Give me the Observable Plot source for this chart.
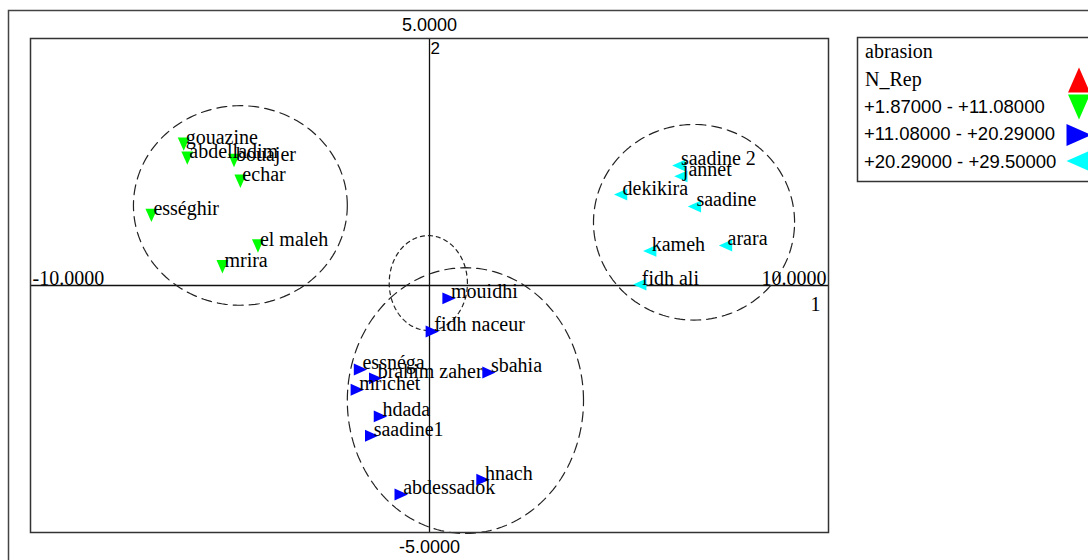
<!DOCTYPE html>
<html>
<head>
<meta charset="utf-8">
<script src="https://cdn.jsdelivr.net/npm/d3@7"></script>
<script src="https://cdn.jsdelivr.net/npm/@observablehq/plot@0.6"></script>
<style>
  html, body { margin: 0; padding: 0; background: #fff; }
  #wrap { position: relative; width: 1088px; height: 560px; overflow: hidden; background: #fff; }
  #wrap > svg { position: absolute; left: 0; top: 0; }
</style>
</head>
<body>
<div id="wrap"></div>
<script>
// ---- data ----
const greenNames = ["gouazine", "abdelladim", "bouajer", "echar", "ességhir", "el maleh", "mrira"];
const greenX = [-6.16, -6.07, -4.90, -4.74, -6.97, -4.30, -5.19];
const greenY = [2.86, 2.58, 2.53, 2.11, 1.42, 0.80, 0.38];

const blueNames = ["mouidhi", "fidh naceur", "essnéga", "brahim zaher", "mrichet", "sbahia", "hdada", "saadine1", "hnach", "abdessadok"];
const blueX = [0.49, 0.07, -1.73, -1.35, -1.81, 1.49, -1.23, -1.45, 1.34, -0.71];
const blueY = [-0.26, -0.93, -1.70, -1.88, -2.11, -1.76, -2.65, -3.04, -3.93, -4.23];

const cyanNames = ["saadine 2", "jannet", "dekikira", "saadine", "kameh", "arara", "fidh ali"];
const cyanX = [6.25, 6.30, 4.79, 6.64, 5.52, 7.42, 5.27];
const cyanY = [2.43, 2.21, 1.84, 1.60, 0.70, 0.81, 0.02];

// dashed cluster ellipses (data units)
const ellipseCX = [-4.74, 6.63, 0.90, -0.03];
const ellipseCY = [1.62, 1.28, -2.33, 0.05];
const ellipseRX = [2.68, 2.52, 2.96, 0.98];
const ellipseRY = [2.02, 1.98, 2.69, 0.96];
const ellipseStyle = ["long", "long", "long", "short"];

// axis labels
const xTickValues = [-10, 10];
const xTickLabels = ["-10.0000", "10.0000"];
const yTickValues = [5, -5];
const yTickLabels = ["5.0000", "-5.0000"];
const xAxisName = "1";
const yAxisName = "2";

// legend
const legendTitle = "abrasion";
const legendField = "N_Rep";
const legendLabels = ["+1.87000 - +11.08000", "+11.08000 - +20.29000", "+20.29000 - +29.50000"];
const legendColors = ["#ff0000", "#00ff00", "#0000ff", "#00ffff"];
const legendShapes = ["up", "down", "right", "left"];

// ---- build ----
const toRows = (names, xs, ys) => names.map((n, i) => ({name: n, x: xs[i], y: ys[i]}));
const greenRows = toRows(greenNames, greenX, greenY);
const blueRows = toRows(blueNames, blueX, blueY);
const cyanRows = toRows(cyanNames, cyanX, cyanY);

function tri(dir) {
  return {
    draw(ctx, size) {
      const r = Math.sqrt(size / Math.PI);
      const a = r * 0.85, b = r * 0.95;
      if (dir === "down") { ctx.moveTo(-a, -b); ctx.lineTo(a, -b); ctx.lineTo(0, b); }
      else if (dir === "up") { ctx.moveTo(-a, b); ctx.lineTo(a, b); ctx.lineTo(0, -b); }
      else if (dir === "right") { ctx.moveTo(-b, -a); ctx.lineTo(-b, a); ctx.lineTo(b, 0); }
      else { ctx.moveTo(b, -a); ctx.lineTo(b, a); ctx.lineTo(-b, 0); }
      ctx.closePath();
    }
  };
}

const ellipsePts = [];
ellipseCX.forEach((cx, k) => {
  const n = 180;
  for (let i = 0; i <= n; i++) {
    const t = (i / n) * 2 * Math.PI;
    ellipsePts.push({id: k, style: ellipseStyle[k], x: cx + ellipseRX[k] * Math.cos(t), y: ellipseCY[k] + ellipseRY[k] * Math.sin(t)});
  }
});

const serif = "'Liberation Serif', 'Times New Roman', serif";
const sans = "'Liberation Sans', Arial, sans-serif";
const labelOpts = {x: "x", y: "y", text: "name", textAnchor: "start", lineAnchor: "bottom", dx: 2, dy: 0, fontFamily: serif, fontSize: 20, fill: "#000"};

const chart = Plot.plot({
  width: 1088,
  height: 560,
  marginLeft: 30,
  marginRight: 260,
  marginTop: 38,
  marginBottom: 28,
  x: {domain: [-10, 10], axis: null},
  y: {domain: [-5, 5], axis: null},
  style: {background: "transparent", overflow: "visible"},
  marks: [
    Plot.ruleY([0], {stroke: "#111", strokeWidth: 1.3}),
    Plot.ruleX([0], {stroke: "#111", strokeWidth: 1.3}),
    Plot.line(ellipsePts.filter(d => d.style === "long"), {x: "x", y: "y", z: "id", stroke: "#222", strokeWidth: 1.2, strokeDasharray: "10,6", curve: "linear"}),
    Plot.line(ellipsePts.filter(d => d.style === "short"), {x: "x", y: "y", z: "id", stroke: "#222", strokeWidth: 1.2, strokeDasharray: "4,4", curve: "linear"}),
    Plot.frame({stroke: "#333", strokeWidth: 1.5}),
    Plot.dot(greenRows, {x: "x", y: "y", symbol: tri("down"), r: 7, fill: "#00ff00", stroke: "none"}),
    Plot.dot(blueRows, {x: "x", y: "y", symbol: tri("right"), r: 7, fill: "#0000ff", stroke: "none"}),
    Plot.dot(cyanRows, {x: "x", y: "y", symbol: tri("left"), r: 7, fill: "#00ffff", stroke: "none"}),
    Plot.text(greenRows, labelOpts),
    Plot.text(blueRows, labelOpts),
    Plot.text(cyanRows, labelOpts),
    // axis tick labels
    Plot.text([0], {x: () => xTickValues[0], y: () => 0, text: () => xTickLabels[0], textAnchor: "start", lineAnchor: "bottom", dx: 2, dy: -1, fontFamily: serif, fontSize: 20, fill: "#000"}),
    Plot.text([0], {x: () => xTickValues[1], y: () => 0, text: () => xTickLabels[1], textAnchor: "end", lineAnchor: "bottom", dx: -2, dy: -1, fontFamily: serif, fontSize: 20, fill: "#000"}),
    Plot.text([0], {x: () => 0, y: () => yTickValues[0], text: () => yTickLabels[0], textAnchor: "middle", lineAnchor: "bottom", dy: -8, fontFamily: sans, fontSize: 18, fill: "#000"}),
    Plot.text([0], {x: () => 0, y: () => yTickValues[1], text: () => yTickLabels[1], textAnchor: "middle", lineAnchor: "bottom", dy: 20, fontFamily: sans, fontSize: 18, fill: "#000"}),
    Plot.text([0], {x: () => xTickValues[1], y: () => 0, text: () => xAxisName, textAnchor: "end", lineAnchor: "bottom", dx: -8, dy: 25, fontFamily: serif, fontSize: 20, fill: "#000"}),
    Plot.text([0], {x: () => 0, y: () => yTickValues[0], text: () => yAxisName, textAnchor: "start", lineAnchor: "top", dx: 1, dy: 3, fontFamily: sans, fontSize: 17, fill: "#000"})
  ]
});

const wrap = document.getElementById("wrap");
wrap.appendChild(chart);

// overlay: outer frame and legend
const ov = d3.select(wrap).append("svg").attr("width", 1088).attr("height", 560).style("pointer-events", "none");
ov.append("rect").attr("x", 8.5).attr("y", 10.5).attr("width", 1200).attr("height", 700)
  .attr("fill", "none").attr("stroke", "#444").attr("stroke-width", 1.5);

const lg = ov.append("g");
lg.append("rect").attr("x", 857.5).attr("y", 37.5).attr("width", 300).attr("height", 144)
  .attr("fill", "#fff").attr("stroke", "#333").attr("stroke-width", 1.5);
lg.append("text").attr("x", 865).attr("y", 58).attr("font-family", serif).attr("font-size", 20).text(legendTitle);
lg.append("text").attr("x", 865).attr("y", 86).attr("font-family", serif).attr("font-size", 20).text(legendField);
const baselines = [113, 140, 168];
legendLabels.forEach((t, i) => {
  lg.append("text").attr("x", 864).attr("y", baselines[i]).attr("font-family", sans).attr("font-size", 18.5).text(t);
});
const markerCY = [80, 107, 135, 161];
legendShapes.forEach((s, i) => {
  const cx = 1079, cy = markerCY[i], a = 11, b = 12.5;
  let p;
  if (s === "up") p = [[cx - a, cy + b], [cx + a, cy + b], [cx, cy - b]];
  else if (s === "down") p = [[cx - a, cy - b], [cx + a, cy - b], [cx, cy + b]];
  else if (s === "right") p = [[cx - b, cy - a], [cx - b, cy + a], [cx + b, cy]];
  else p = [[cx + b, cy - a], [cx + b, cy + a], [cx - b, cy]];
  lg.append("polygon").attr("points", p.map(q => q.join(",")).join(" ")).attr("fill", legendColors[i]);
});
</script>
</body>
</html>
